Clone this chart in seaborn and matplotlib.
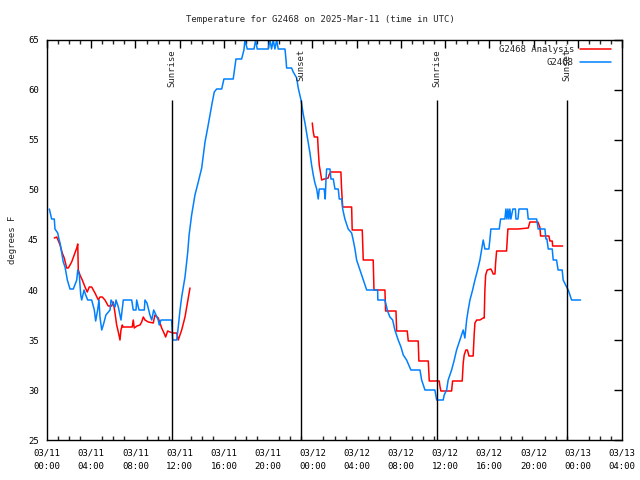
import matplotlib
matplotlib.use("Agg")
import matplotlib.pyplot as plt
from matplotlib.lines import Line2D
import seaborn as sns
import pandas as pd

# Hours since 03/11 00:00 UTC and temperatures (deg F)
obs_hours = [0.21, 0.42, 0.66, 0.72, 0.97, 1.08, 1.18, 1.33, 1.47, 1.63, 1.84, 2.08, 2.38, 2.69, 2.78, 2.92,
             3.05, 3.14, 3.35, 3.50, 3.68, 4.04, 4.28, 4.40, 4.58, 4.70, 4.79, 4.95, 5.09, 5.33, 5.70, 5.79,
             6.15, 6.24, 6.45, 6.69, 6.90, 7.66, 7.80, 8.05, 8.11, 8.32, 8.80, 8.86, 9.04, 9.31, 9.47, 9.65,
             9.86, 10.06, 10.15, 10.31, 11.27, 11.32, 11.37, 11.73, 11.87, 12.03, 12.18, 12.48, 12.72, 12.85,
             13.08, 13.38, 13.68, 13.99, 14.29, 14.53, 14.74, 14.95, 15.13, 15.34, 15.80, 16.00, 16.84, 17.09,
             17.60, 17.81, 17.90, 18.11, 18.72, 18.87, 19.01, 20.01, 20.16, 20.31, 20.46, 20.61, 20.77, 20.91,
             21.52, 21.61, 21.67, 22.12, 22.27, 22.58, 22.72, 22.97, 23.17, 23.33, 23.48, 23.63, 23.78, 23.93,
             24.08, 24.23, 24.39, 24.53, 24.62, 25.07, 25.16, 25.23, 25.29, 25.59, 25.68, 25.89, 26.04, 26.34,
             26.43, 26.65, 26.74, 26.94, 27.24, 27.55, 27.69, 27.85, 28.00, 28.30, 28.60, 28.91, 29.90, 29.92,
             30.56, 30.80, 31.01, 31.26, 31.46, 31.76, 32.01, 32.22, 32.52, 32.91, 33.73, 33.88, 34.18, 35.08,
             35.24, 35.83, 35.92, 36.14, 36.28, 36.59, 36.83, 37.04, 37.34, 37.64, 37.79, 37.95, 38.09, 38.25,
             38.49, 38.70, 38.94, 39.15, 39.30, 39.45, 39.60, 39.96, 40.05, 40.14, 40.90, 41.02, 41.41, 41.50,
             41.59, 41.68, 41.77, 41.86, 41.95, 42.13, 42.36, 42.41, 42.59, 42.68, 43.43, 43.52, 44.28, 44.42,
             45.03, 45.12, 45.21, 45.33, 45.69, 45.78, 46.08, 46.22, 46.59, 46.68, 46.99, 47.14, 47.29, 47.44,
             48.25]
obs_temps = [48.1, 47.1, 47.1, 46.1, 45.7, 45.1, 44.7, 43.7, 42.8, 42.3, 41.0, 40.1, 40.1, 41.0, 42.0, 41.5,
             39.5, 39.0, 40.0, 39.5, 39.0, 39.0, 38.0, 36.9, 38.0, 39.0, 37.3, 36.0, 36.5, 37.5, 38.0, 39.0,
             38.3, 39.0, 38.3, 37.0, 39.0, 39.0, 38.0, 38.0, 39.0, 38.0, 38.0, 39.0, 38.7, 37.5, 37.0, 38.0,
             37.5, 37.0, 36.5, 37.0, 37.0, 36.0, 35.0, 35.0, 36.3, 38.0, 39.3, 41.3, 43.7, 45.5,
             47.5, 49.5, 50.8, 52.2, 54.8, 56.2, 57.5, 58.8, 59.8, 60.1, 60.1, 61.1, 61.1, 63.1,
             63.1, 64.0, 65.0, 64.1, 64.1, 65.0, 64.1, 64.1, 65.0, 64.1, 65.0, 64.1, 65.0, 64.1,
             64.1, 63.1, 62.2, 62.2, 61.8, 61.2, 60.2, 59.0, 57.6, 56.7, 55.7, 54.7, 53.7, 52.5,
             51.5, 50.7, 50.1, 49.1, 50.1, 50.1, 49.1, 51.0, 52.1, 52.1, 51.1, 51.1, 50.1, 50.1,
             49.1, 49.1, 48.1, 47.1, 46.1, 45.7, 45.0, 44.1, 43.0, 42.0, 41.0, 40.0, 40.0, 39.0,
             39.0, 37.9, 37.3, 37.0, 36.0, 35.0, 34.3, 33.5, 33.0, 32.0, 32.0, 31.0, 30.0, 30.0,
             29.0, 29.0, 29.5, 30.0, 31.0, 32.0, 33.0, 34.0, 35.0, 36.0, 35.2, 37.0, 38.0, 39.0,
             40.0, 41.0, 42.0, 43.0, 44.0, 45.0, 44.1, 44.1, 45.0, 46.1, 46.1, 47.1, 47.1, 48.1,
             47.1, 48.1, 47.1, 48.1, 47.1, 48.1, 48.1, 47.1, 47.1, 48.1, 48.1, 47.1, 47.1, 46.1,
             46.1, 45.1, 45.1, 44.1, 44.1, 43.0, 43.0, 42.0, 42.0, 41.0, 40.3, 40.0, 39.5, 39.0,
             39.0]

ana1_hours = [0.66, 0.88, 1.00, 1.18, 1.38, 1.56, 1.78, 1.93, 2.23, 2.69, 2.78, 2.83, 2.98, 3.19, 3.44, 3.64,
              3.82, 4.04, 4.34, 4.64, 4.79, 5.00, 5.24, 5.54, 5.85, 5.99, 6.15, 6.30, 6.45, 6.60, 6.69, 6.81,
              6.87, 7.71, 7.80, 7.89, 8.14, 8.41, 8.56, 8.71, 8.86, 9.16, 9.61, 9.76, 10.06, 10.22, 10.37,
              10.58, 10.73, 10.91, 11.12, 11.42, 11.73, 11.87, 12.18, 12.48, 12.93]
ana1_temps = [45.2, 45.3, 45.0, 44.5, 43.7, 43.2, 42.2, 42.2, 42.8, 44.2, 44.6, 42.0, 41.5, 41.0, 40.3, 39.8,
              40.3, 40.3, 39.7, 39.0, 39.3, 39.3, 39.0, 38.4, 38.4, 38.8, 37.7, 36.5, 35.8, 35.0, 36.0, 36.5,
              36.3, 36.3, 37.0, 36.2, 36.4, 36.5, 36.8, 37.3, 37.0, 36.8, 36.7, 37.5, 37.2, 36.7, 36.2,
              35.7, 35.3, 35.9, 35.8, 35.7, 35.7, 35.0, 36.0, 37.3, 40.2]

ana2_hours = [23.99, 24.08, 24.17, 24.47, 24.53, 24.62, 24.77, 24.84, 25.07, 25.43, 25.50, 25.65, 26.58, 26.64,
              26.74, 27.55, 27.60, 28.51, 28.60, 29.50, 29.57, 30.56, 30.62, 31.56, 31.62, 32.58, 32.67, 33.57,
              33.63, 34.48, 34.57, 35.47, 35.53, 35.62, 36.59, 36.68, 37.55, 37.64, 37.73, 37.88, 38.02, 38.16,
              38.54, 38.63, 38.70, 38.86, 39.15, 39.45, 39.54, 39.60, 39.67, 39.81, 40.14, 40.24, 40.35, 40.51,
              40.57, 40.66, 41.56, 41.62, 41.68, 42.61, 43.52, 43.67, 44.39, 44.57, 44.64, 45.39, 45.48, 45.69,
              45.73, 46.63]
ana2_temps = [56.7, 55.8, 55.3, 55.3, 54.0, 52.5, 51.5, 51.0, 51.1, 51.2, 51.5, 51.8, 51.8, 50.1,
              48.3, 48.3, 46.0, 46.0, 43.0, 43.0, 40.0, 40.0, 37.9, 37.9, 35.9, 35.9, 34.9, 34.9,
              32.9, 32.9, 30.9, 30.9, 30.4, 29.9, 29.9, 30.9, 30.9, 32.7, 33.5, 34.0, 34.0, 33.4,
              33.4, 35.5, 36.7, 37.0, 37.0, 37.2, 37.2, 40.0, 41.5, 42.0, 42.1, 41.9, 41.6, 41.6,
              42.7, 43.9, 43.9, 45.0, 46.1, 46.1, 46.2, 46.8, 46.8, 46.3, 45.4, 45.4, 44.9, 44.9,
              44.4, 44.4]

sun_hours = [11.30, 22.97, 35.26, 47.02]
sun_labels = ["Sunrise", "Sunset", "Sunrise", "Sunset"]

tick_hours = list(range(0, 53, 4))
tick_labels = ["03/11\n00:00", "03/11\n04:00", "03/11\n08:00", "03/11\n12:00", "03/11\n16:00",
               "03/11\n20:00", "03/12\n00:00", "03/12\n04:00", "03/12\n08:00", "03/12\n12:00",
               "03/12\n16:00", "03/12\n20:00", "03/13\n00:00", "03/13\n04:00"]

sns.set_style("white")
plt.rcParams["font.family"] = ["DejaVu Sans Mono"]
FS = 6.5

BLUE = "#0080ff"
RED = "#ff0000"

fig = plt.figure(figsize=(6.4, 4.8), dpi=100)
ax = fig.add_axes([47 / 640, 40 / 480, 575 / 640, 400 / 480])

obs = pd.DataFrame({"hour": obs_hours, "temp": obs_temps})
a1 = pd.DataFrame({"hour": ana1_hours, "temp": ana1_temps})
a2 = pd.DataFrame({"hour": ana2_hours, "temp": ana2_temps})

sns.lineplot(data=a1, x="hour", y="temp", sort=False, estimator=None, color=RED, lw=1.1, ax=ax)
sns.lineplot(data=a2, x="hour", y="temp", sort=False, estimator=None, color=RED, lw=1.1, ax=ax)
sns.lineplot(data=obs, x="hour", y="temp", sort=False, estimator=None, color=BLUE, lw=1.1, ax=ax)

for h, lab in zip(sun_hours, sun_labels):
    ax.vlines(h, 25, 59, color="black", lw=1.0)
    ax.text(h, 64.1, lab, rotation=90, ha="center", va="top", fontsize=FS)

ax.set_xlim(0, 52)
ax.set_ylim(25, 65)
ax.set_xticks(tick_hours)
ax.set_xticklabels(tick_labels, fontsize=FS, linespacing=1.6)
ax.set_xticks(list(range(0, 53)), minor=True)
ax.set_yticks(list(range(25, 66, 5)))
ax.set_yticklabels([str(v) for v in range(25, 66, 5)], fontsize=FS)
ax.tick_params(axis="both", which="major", direction="in", length=6, width=1,
               top=True, right=True, pad=6, colors="black")
ax.tick_params(axis="x", which="minor", direction="in", length=3, width=1, top=True, bottom=True)
ax.tick_params(axis="x", which="major", pad=6)
for s in ax.spines.values():
    s.set_visible(True)
    s.set_color("black")
    s.set_linewidth(1.0)

ax.set_xlabel("")
ax.set_ylabel("degrees F", fontsize=FS, labelpad=8)
fig.text(0.5, 1 - 19 / 480, "Temperature for G2468 on 2025-Mar-11 (time in UTC)",
         fontsize=FS, ha="center", va="center")

handles = [Line2D([], [], color=RED, lw=1.1), Line2D([], [], color=BLUE, lw=1.1)]
ax.legend(handles, ["G2468 Analysis", "G2468"], loc="upper right", frameon=False,
          markerfirst=False, fontsize=FS, handlelength=3.4, handletextpad=0.7,
          borderaxespad=0.2, labelspacing=0.4, bbox_to_anchor=(0.99, 1.0))

fig.savefig("out.png", dpi=100)
